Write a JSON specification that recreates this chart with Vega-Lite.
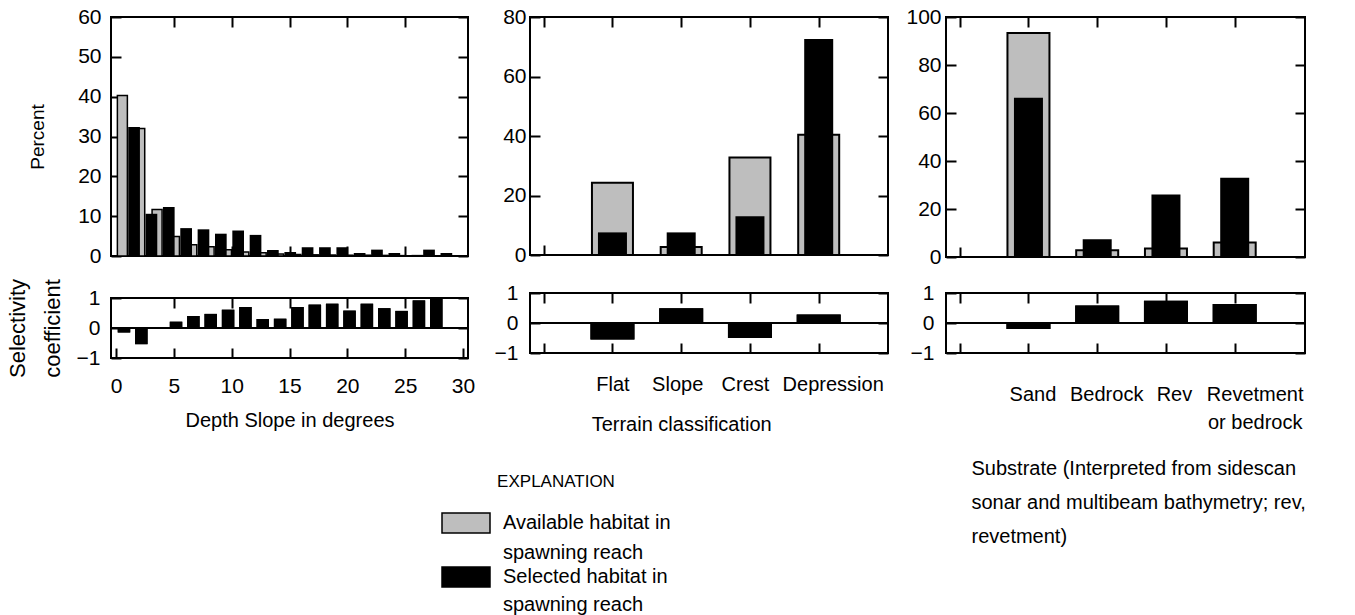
{
  "$schema": "https://vega.github.io/schema/vega-lite/v6.json",
  "background": "white",
  "padding": 5,
  "datasets": {
    "slope": [
      {"slope_deg": 0.75, "available": 40.3, "selected": 32.4, "selectivity": -0.15},
      {"slope_deg": 2.25, "available": 32.0, "selected": 10.6, "selectivity": -0.54},
      {"slope_deg": 3.75, "available": 11.7, "selected": 12.3, "selectivity": 0.03},
      {"slope_deg": 5.25, "available": 4.9, "selected": 7.0, "selectivity": 0.21},
      {"slope_deg": 6.75, "available": 2.8, "selected": 6.7, "selectivity": 0.40},
      {"slope_deg": 8.25, "available": 2.3, "selected": 5.6, "selectivity": 0.47},
      {"slope_deg": 9.75, "available": 1.6, "selected": 6.4, "selectivity": 0.61},
      {"slope_deg": 11.25, "available": 1.0, "selected": 5.3, "selectivity": 0.70},
      {"slope_deg": 12.75, "available": 0.8, "selected": 1.5, "selectivity": 0.30},
      {"slope_deg": 14.25, "available": 0.5, "selected": 1.0, "selectivity": 0.31},
      {"slope_deg": 15.75, "available": 0.4, "selected": 2.2, "selectivity": 0.70},
      {"slope_deg": 17.25, "available": 0.3, "selected": 2.2, "selectivity": 0.78},
      {"slope_deg": 18.75, "available": 0.25, "selected": 2.2, "selectivity": 0.81},
      {"slope_deg": 20.25, "available": 0.2, "selected": 0.75, "selectivity": 0.58},
      {"slope_deg": 21.75, "available": 0.2, "selected": 1.6, "selectivity": 0.81},
      {"slope_deg": 23.25, "available": 0.15, "selected": 0.75, "selectivity": 0.66},
      {"slope_deg": 24.75, "available": 0.1, "selected": 0, "selectivity": 0.57},
      {"slope_deg": 26.25, "available": 0.1, "selected": 1.6, "selectivity": 0.92},
      {"slope_deg": 27.75, "available": 0, "selected": 0.75, "selectivity": 1.0}
    ],
    "terrain": [
      {"terrain": "Flat", "available": 24.3, "selected": 7.6, "selectivity": -0.55},
      {"terrain": "Slope", "available": 2.7, "selected": 7.6, "selectivity": 0.49},
      {"terrain": "Crest", "available": 32.8, "selected": 13.0, "selectivity": -0.5},
      {"terrain": "Depression", "available": 40.4, "selected": 72.6, "selectivity": 0.28}
    ],
    "substrate": [
      {"substrate": "Sand", "available": 93.3, "selected": 66.4, "selectivity": -0.2},
      {"substrate": "Bedrock", "available": 2.8, "selected": 7.4, "selectivity": 0.58},
      {"substrate": "Rev", "available": 3.5, "selected": 26.0, "selectivity": 0.74},
      {"substrate": "Revetment or bedrock", "available": 6.0, "selected": 33.0, "selectivity": 0.63}
    ]
  },
  "config": {
    "font": "Liberation Sans",
    "view": {"stroke": "black", "strokeWidth": 2},
    "axis": {
      "domain": false,
      "grid": false,
      "offset": -10,
      "tickColor": "black",
      "tickWidth": 2,
      "tickSize": 10,
      "labelColor": "black",
      "titleColor": "black",
      "titleFontWeight": "normal",
      "labelFontSize": 21,
      "titleFontSize": 20,
      "labelPadding": 10,
      "labelOverlap": false
    },
    "legend": {
      "titleFontSize": 17,
      "titleFontWeight": "normal",
      "titleColor": "black",
      "symbolType": "M-1,-0.417H1V0.417H-1Z",
      "symbolSize": 2304,
      "symbolStrokeColor": "black",
      "symbolStrokeWidth": 1.5,
      "symbolOpacity": 1,
      "labelFontSize": 20,
      "labelColor": "black",
      "labelOffset": 12,
      "labelLimit": 400,
      "labelBaseline": "middle"
    }
  },
  "spacing": 17,
  "hconcat": [
    {
      "spacing": 10,
      "vconcat": [
        {
          "width": 357,
          "height": 239,
          "data": {"name": "slope"},
          "layer": [
            {
              "mark": {"type": "bar", "width": 10, "xOffset": -2.3, "stroke": "black", "strokeWidth": 1.5},
              "encoding": {
                "x": {"field": "slope_deg", "type": "quantitative", "scale": {"domain": [0, 30], "nice": false, "zero": false}, "axis": {"orient": "bottom", "values": [5, 10, 15, 20, 25], "labels": false, "title": null}},
                "y": {"field": "available", "type": "quantitative", "scale": {"domain": [0, 60], "nice": false}, "axis": {"orient": "left", "values": [0, 10, 20, 30, 40, 50, 60], "title": "Percent", "titleFontSize": 19, "titlePadding": 30, "labelPadding": 10}},
                "fill": {
                  "datum": "Available habitat in spawning reach",
                  "type": "nominal",
                  "scale": {"domain": ["Available habitat in spawning reach"], "range": ["#bebebe"]},
                  "legend": {
                    "title": "EXPLANATION",
                    "orient": "none",
                    "legendX": 330,
                    "legendY": 457,
                    "titleAnchor": "middle",
                    "titlePadding": 7,
                    "labelExpr": "['Available habitat in', 'spawning reach']",
                    "encode": {"labels": {"update": {"lineHeight": {"value": 30}}}}
                  }
                }
              }
            },
            {
              "mark": {"type": "bar", "width": 11.7, "xOffset": 9.4},
              "encoding": {
                "x": {"field": "slope_deg", "type": "quantitative", "axis": {"orient": "top", "values": [5, 10, 15, 20, 25], "labels": false, "title": null}},
                "y": {"field": "selected", "type": "quantitative", "axis": {"orient": "right", "values": [0, 10, 20, 30, 40, 50, 60], "labels": false, "title": null}},
                "color": {
                  "datum": "Selected habitat in spawning reach",
                  "type": "nominal",
                  "scale": {"domain": ["Selected habitat in spawning reach"], "range": ["#000000"]},
                  "legend": {
                    "title": null,
                    "orient": "none",
                    "legendX": 330,
                    "legendY": 535,
                    "labelExpr": "['Selected habitat in', 'spawning reach']",
                    "encode": {"labels": {"update": {"lineHeight": {"value": 28}}}}
                  }
                }
              }
            }
          ],
          "resolve": {"axis": {"x": "independent", "y": "independent"}}
        },
        {
          "width": 357,
          "height": 60,
          "data": {"name": "slope"},
          "layer": [
            {
              "mark": {"type": "bar", "width": 12.5, "xOffset": -0.7, "color": "black"},
              "encoding": {
                "x": {"field": "slope_deg", "type": "quantitative", "scale": {"domain": [0, 30], "nice": false, "zero": false}, "axis": {"orient": "bottom", "values": [0, 5, 10, 15, 20, 25, 30], "title": "Depth Slope in degrees", "titlePadding": 14, "labelPadding": 17}},
                "y": {"field": "selectivity", "type": "quantitative", "scale": {"domain": [-1, 1], "nice": false}, "axis": {"orient": "left", "values": [-1, 0, 1], "labelOverlap": false, "labelExpr": "datum.value > 0.5 ? '1' : (datum.value < -0.5 ? '−1' : '0')", "title": ["Selectivity", "coefficient"], "titleFontSize": 22, "titleLineHeight": 35, "titlePadding": 12, "labelPadding": 11}}
              }
            },
            {
              "mark": {"type": "bar", "width": 12.5, "xOffset": -0.7, "color": "black"},
              "encoding": {
                "x": {"field": "slope_deg", "type": "quantitative", "axis": {"orient": "top", "values": [5, 10, 15, 20, 25], "labels": false, "title": null}},
                "y": {"field": "selectivity", "type": "quantitative", "axis": {"orient": "right", "values": [-1, 0, 1], "labels": false, "title": null}}
              }
            },
            {
              "mark": {"type": "rule", "color": "black", "strokeWidth": 1.5},
              "encoding": {"y": {"datum": 0, "type": "quantitative", "axis": null}}
            }
          ],
          "resolve": {"axis": {"x": "independent", "y": "independent"}}
        }
      ]
    },
    {
      "spacing": 14,
      "hconcat": [
        {
          "spacing": 15,
          "vconcat": [
            {
              "width": 358,
              "height": 238,
              "data": {"name": "terrain"},
              "layer": [
                {
                  "mark": {"type": "bar", "width": 41, "stroke": "black", "strokeWidth": 2},
                  "encoding": {
                    "x": {"field": "terrain", "type": "nominal", "scale": {"type": "point", "domain": [" ", "Flat", "Slope", "Crest", "Depression"], "range": [13.7, 288.7], "padding": 0}, "axis": {"orient": "bottom", "labels": false, "title": null}},
                    "y": {"field": "available", "type": "quantitative", "scale": {"domain": [0, 80], "nice": false}, "axis": {"orient": "left", "values": [0, 20, 40, 60, 80], "title": null, "labelPadding": 4}},
                    "fill": {"datum": "Available habitat in spawning reach", "type": "nominal"}
                  }
                },
                {
                  "mark": {"type": "bar", "width": 29},
                  "encoding": {
                    "x": {"field": "terrain", "type": "nominal", "axis": {"orient": "top", "labels": false, "title": null}},
                    "y": {"field": "selected", "type": "quantitative", "axis": {"orient": "right", "values": [0, 20, 40, 60, 80], "labels": false, "title": null}},
                    "color": {"datum": "Selected habitat in spawning reach", "type": "nominal"}
                  }
                }
              ],
              "resolve": {"axis": {"x": "independent", "y": "independent"}}
            },
            {
              "width": 358,
              "height": 60,
              "data": {"name": "terrain"},
              "layer": [
                {
                  "mark": {"type": "bar", "width": 44, "color": "black"},
                  "encoding": {
                    "x": {"field": "terrain", "type": "nominal", "scale": {"type": "point", "domain": [" ", "Flat", "Slope", "Crest", "Depression"], "range": [13.7, 288.7], "padding": 0}, "axis": {"orient": "bottom", "labelAngle": 0, "labelFontSize": 20, "labelPadding": 21, "labelOffset": {"condition": [{"test": "datum.value == 'Depression'", "value": 14}, {"test": "datum.value == 'Crest'", "value": -5}, {"test": "datum.value == 'Slope'", "value": -4}], "value": 0}, "title": "Terrain classification", "titlePadding": 20}},
                    "y": {"field": "selectivity", "type": "quantitative", "scale": {"domain": [-1, 1], "nice": false}, "axis": {"orient": "left", "values": [-1, 0, 1], "labelOverlap": false, "labelExpr": "datum.value > 0.5 ? '1' : (datum.value < -0.5 ? '−1' : '0')", "title": null, "labelPadding": 12}}
                  }
                },
                {
                  "mark": {"type": "bar", "width": 44, "color": "black"},
                  "encoding": {
                    "x": {"field": "terrain", "type": "nominal", "axis": {"orient": "top", "labels": false, "title": null}},
                    "y": {"field": "selectivity", "type": "quantitative", "axis": {"orient": "right", "values": [-1, 0, 1], "labels": false, "title": null}}
                  }
                },
                {
                  "mark": {"type": "rule", "color": "black", "strokeWidth": 1.5},
                  "encoding": {"y": {"datum": 0, "type": "quantitative", "axis": null}}
                }
              ],
              "resolve": {"axis": {"x": "independent", "y": "independent"}}
            }
          ]
        },
        {
          "spacing": 13,
          "vconcat": [
            {
              "width": 359,
              "height": 240,
              "data": {"name": "substrate"},
              "layer": [
                {
                  "mark": {"type": "bar", "width": 42, "stroke": "black", "strokeWidth": 2},
                  "encoding": {
                    "x": {"field": "substrate", "type": "nominal", "scale": {"type": "point", "domain": [" ", "Sand", "Bedrock", "Rev", "Revetment or bedrock"], "range": [13.7, 288.7], "padding": 0}, "axis": {"orient": "bottom", "labels": false, "title": null}},
                    "y": {"field": "available", "type": "quantitative", "scale": {"domain": [0, 100], "nice": false}, "axis": {"orient": "left", "values": [0, 20, 40, 60, 80, 100], "title": null, "labelPadding": 5}},
                    "fill": {"datum": "Available habitat in spawning reach", "type": "nominal"}
                  }
                },
                {
                  "mark": {"type": "bar", "width": 29},
                  "encoding": {
                    "x": {"field": "substrate", "type": "nominal", "axis": {"orient": "top", "labels": false, "title": null}},
                    "y": {"field": "selected", "type": "quantitative", "axis": {"orient": "right", "values": [0, 20, 40, 60, 80, 100], "labels": false, "title": null}},
                    "color": {"datum": "Selected habitat in spawning reach", "type": "nominal"}
                  }
                }
              ],
              "resolve": {"axis": {"x": "independent", "y": "independent"}}
            },
            {
              "width": 359,
              "height": 60,
              "data": {"name": "substrate"},
              "layer": [
                {
                  "mark": {"type": "bar", "width": 44, "color": "black"},
                  "encoding": {
                    "x": {"field": "substrate", "type": "nominal", "scale": {"type": "point", "domain": [" ", "Sand", "Bedrock", "Rev", "Revetment or bedrock"], "range": [13.7, 288.7], "padding": 0}, "axis": {"orient": "bottom", "labelAngle": 0, "labelFontSize": 20, "labelPadding": 31, "labelLineHeight": 28, "labelLimit": 300, "labelOffset": {"condition": [{"test": "datum.value == 'Revetment or bedrock'", "value": 20}, {"test": "datum.value == 'Rev'", "value": 8}, {"test": "datum.value == 'Bedrock'", "value": 9}, {"test": "datum.value == 'Sand'", "value": 4}], "value": 0}, "labelExpr": "datum.value == 'Revetment or bedrock' ? ['Revetment', 'or bedrock'] : datum.label", "title": ["Substrate (Interpreted from sidescan", "sonar and multibeam bathymetry; rev,", "revetment)"], "titleAlign": "left", "titleAnchor": "start", "titleX": 25, "titlePadding": 26, "titleLineHeight": 34}},
                    "y": {"field": "selectivity", "type": "quantitative", "scale": {"domain": [-1, 1], "nice": false}, "axis": {"orient": "left", "values": [-1, 0, 1], "labelOverlap": false, "labelExpr": "datum.value > 0.5 ? '1' : (datum.value < -0.5 ? '−1' : '0')", "title": null, "labelPadding": 12}}
                  }
                },
                {
                  "mark": {"type": "bar", "width": 44, "color": "black"},
                  "encoding": {
                    "x": {"field": "substrate", "type": "nominal", "axis": {"orient": "top", "labels": false, "title": null}},
                    "y": {"field": "selectivity", "type": "quantitative", "axis": {"orient": "right", "values": [-1, 0, 1], "labels": false, "title": null}}
                  }
                },
                {
                  "mark": {"type": "rule", "color": "black", "strokeWidth": 1.5},
                  "encoding": {"y": {"datum": 0, "type": "quantitative", "axis": null}}
                }
              ],
              "resolve": {"axis": {"x": "independent", "y": "independent"}}
            }
          ]
        }
      ]
    }
  ]
}
